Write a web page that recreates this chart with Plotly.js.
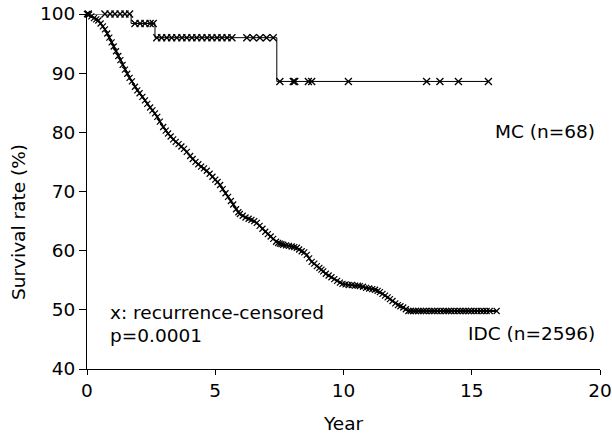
<!DOCTYPE html>
<html>
<head>
<meta charset="utf-8">
<script src="https://cdn.plot.ly/plotly-3.0.1.min.js"></script>
<style>html,body{margin:0;padding:0;background:#fff;}#chart{width:612px;height:435px;}</style>
</head>
<body>
<div id="chart"></div>
<script>
// MC (n=68): Kaplan-Meier steps
const mcStepYears = [0, 1.72, 2.65, 7.40, 15.65];
const mcStepSurv  = [100, 98.4, 96.0, 88.6, 88.6];
// MC censored marks
const mcCensorYears = [0.05, 0.70, 0.90, 1.09, 1.29, 1.48, 1.66,
  1.87, 2.07, 2.26, 2.46, 2.58,
  2.72, 2.91, 3.11, 3.30, 3.50, 3.70, 3.89, 4.09, 4.28, 4.48, 4.68, 4.87, 5.07, 5.26, 5.46, 5.65, 6.23, 6.48, 6.74, 7.00, 7.26,
  7.52, 8.04, 8.10, 8.63, 8.76, 10.19, 13.24, 13.76, 14.48, 15.65];
const mcCensorSurv = [100, 100, 100, 100, 100, 100, 100,
  98.4, 98.4, 98.4, 98.4, 98.4,
  96.0, 96.0, 96.0, 96.0, 96.0, 96.0, 96.0, 96.0, 96.0, 96.0, 96.0, 96.0, 96.0, 96.0, 96.0, 96.0, 96.0, 96.0, 96.0, 96.0, 96.0,
  88.6, 88.6, 88.6, 88.6, 88.6, 88.6, 88.6, 88.6, 88.6, 88.6];

// IDC (n=2596): curve points (each with a censor mark)
const idcYears = [0, 0.08, 0.17, 0.27, 0.36, 0.44, 0.53, 0.62, 0.70, 0.79,
  0.87, 0.96, 1.04, 1.13, 1.22, 1.30, 1.39, 1.48, 1.57, 1.66,
  1.75, 1.87, 1.96, 2.05, 2.16, 2.26, 2.35, 2.46, 2.55, 2.65,
  2.74, 2.84, 2.97, 3.07, 3.16, 3.26, 3.36, 3.46, 3.57, 3.68,
  3.78, 3.89, 4.02, 4.12, 4.23, 4.34, 4.45, 4.56, 4.67, 4.78,
  4.89, 5.00, 5.09, 5.19, 5.29, 5.40, 5.50, 5.61, 5.70, 5.81,
  5.90, 5.96, 6.07, 6.18, 6.30, 6.41, 6.52, 6.62, 6.73, 6.84,
  6.95, 7.05, 7.16, 7.26, 7.37, 7.45, 7.52, 7.58, 7.65, 7.76,
  7.87, 7.98, 8.08, 8.18, 8.27, 8.37, 8.47, 8.57, 8.66, 8.76,
  8.86, 8.96, 9.06, 9.14, 9.21, 9.31, 9.42, 9.53, 9.64, 9.75,
  9.86, 9.96, 10.08, 10.20, 10.33, 10.45, 10.56, 10.64, 10.76, 10.88,
  11.00, 11.12, 11.23, 11.33, 11.42, 11.52, 11.62, 11.72, 11.81, 11.91,
  12.02, 12.12, 12.22, 12.33, 12.43, 12.53, 12.62, 12.72, 12.82, 12.92,
  13.02, 13.12, 13.22, 13.34, 13.45, 13.55, 13.66, 13.78, 13.90, 14.00,
  14.10, 14.20, 14.32, 14.44, 14.55, 14.66, 14.77, 14.88, 14.98, 15.10,
  15.22, 15.35, 15.46, 15.58, 15.70, 15.97];
const idcSurv = [100, 99.9, 99.6, 99.3, 99.1, 98.9, 98.4, 97.9, 97.4, 96.7,
  96.0, 95.2, 94.5, 93.7, 92.9, 92.2, 91.4, 90.6, 89.9, 89.2,
  88.6, 87.7, 87.1, 86.6, 86.0, 85.4, 84.8, 84.2, 83.7, 83.2,
  82.6, 81.8, 80.9, 80.3, 79.8, 79.3, 78.8, 78.4, 78.0, 77.6,
  77.2, 76.7, 76.0, 75.5, 75.0, 74.6, 74.2, 73.9, 73.5, 73.0,
  72.5, 72.0, 71.6, 71.1, 70.4, 69.7, 69.1, 68.4, 67.8, 67.0,
  66.5, 66.2, 65.9, 65.6, 65.4, 65.2, 65.0, 64.7, 64.2, 63.7,
  63.2, 62.8, 62.4, 62.0, 61.5, 61.3, 61.2, 61.1, 61.0, 60.9,
  60.8, 60.7, 60.6, 60.5, 60.2, 59.9, 59.7, 59.3, 58.7, 58.1,
  57.8, 57.4, 57.1, 56.8, 56.5, 56.1, 55.8, 55.5, 55.2, 54.9,
  54.6, 54.4, 54.3, 54.2, 54.2, 54.1, 54.1, 54.0, 53.9, 53.7,
  53.6, 53.5, 53.4, 53.2, 53.0, 52.7, 52.4, 52.1, 51.8, 51.5,
  51.1, 50.8, 50.6, 50.4, 50.1, 49.8, 49.8, 49.8, 49.8, 49.8,
  49.8, 49.8, 49.8, 49.8, 49.8, 49.8, 49.8, 49.8, 49.8, 49.8,
  49.8, 49.8, 49.8, 49.8, 49.8, 49.8, 49.8, 49.8, 49.8, 49.8,
  49.8, 49.8, 49.8, 49.8, 49.8, 49.8];

const xTickVals = [0, 5, 10, 15, 20];
const yTickVals = [40, 50, 60, 70, 80, 90, 100];

const FONT = 'DejaVu Sans, Arial, sans-serif';
const FS = 18.5;

const traces = [
  {x: mcStepYears, y: mcStepSurv, mode: 'lines', line: {color: '#000', width: 1, shape: 'hv'},
   cliponaxis: false, hoverinfo: 'skip', showlegend: false},
  {x: mcCensorYears, y: mcCensorSurv, mode: 'markers', cliponaxis: false, showlegend: false,
   marker: {symbol: 'x-thin', size: 7, line: {color: '#000', width: 1.3}}},
  {x: idcYears, y: idcSurv, mode: 'lines+markers', cliponaxis: false, showlegend: false,
   line: {color: '#000', width: 1.8},
   marker: {symbol: 'x-thin', size: 6, line: {color: '#000', width: 1.2}}}
];

const layout = {
  width: 612, height: 435,
  margin: {l: 87, r: 12, t: 14, b: 66},
  paper_bgcolor: '#fff', plot_bgcolor: '#fff',
  font: {family: FONT, size: FS, color: '#000'},
  showlegend: false,
  xaxis: {range: [0, 20], tickvals: xTickVals, ticktext: xTickVals.map(String),
    showgrid: false, zeroline: false, showline: true, linecolor: '#000', linewidth: 1,
    ticks: 'outside', ticklen: 5, tickcolor: '#000', tickwidth: 1,
    tickfont: {family: FONT, size: FS, color: '#000'},
    title: {text: 'Year', font: {family: FONT, size: FS, color: '#000'}, standoff: 16}},
  yaxis: {range: [40, 100], tickvals: yTickVals, ticktext: yTickVals.map(String),
    showgrid: false, zeroline: false, showline: true, linecolor: '#000', linewidth: 1,
    ticks: 'outside', ticklen: 7, tickcolor: '#000', tickwidth: 1,
    tickfont: {family: FONT, size: FS, color: '#000'}},
  annotations: [
    {x: 18, y: 222, xref: 'paper', yref: 'paper', text: 'Survival rate (%)', showarrow: false, textangle: -90,
     xanchor: 'center', yanchor: 'middle', font: {family: FONT, size: FS, color: '#000'}},
    {x: 19.9, y: 80.2, xref: 'x', yref: 'y', text: 'MC (n=68)', showarrow: false, xanchor: 'right', yanchor: 'middle',
     font: {family: FONT, size: FS, color: '#000'}},
    {x: 19.9, y: 46.0, xref: 'x', yref: 'y', text: 'IDC (n=2596)', showarrow: false, xanchor: 'right', yanchor: 'middle',
     font: {family: FONT, size: FS, color: '#000'}},
    {x: 0.8, y: 49.6, xref: 'x', yref: 'y', text: 'x: recurrence-censored', showarrow: false, xanchor: 'left', yanchor: 'middle',
     font: {family: FONT, size: FS, color: '#000'}},
    {x: 0.8, y: 45.6, xref: 'x', yref: 'y', text: 'p=0.0001', showarrow: false, xanchor: 'left', yanchor: 'middle',
     font: {family: FONT, size: FS, color: '#000'}}
  ]
};
// y-axis title placed in paper coordinates converted from pixel position
const plotH = 435 - layout.margin.t - layout.margin.b;
const plotW = 612 - layout.margin.l - layout.margin.r;
const yt = layout.annotations[0];
yt.x = (yt.x - layout.margin.l) / plotW;
yt.y = (435 - layout.margin.b - yt.y) / plotH;

Plotly.newPlot('chart', traces, layout, {displayModeBar: false, staticPlot: true});
</script>
</body>
</html>
